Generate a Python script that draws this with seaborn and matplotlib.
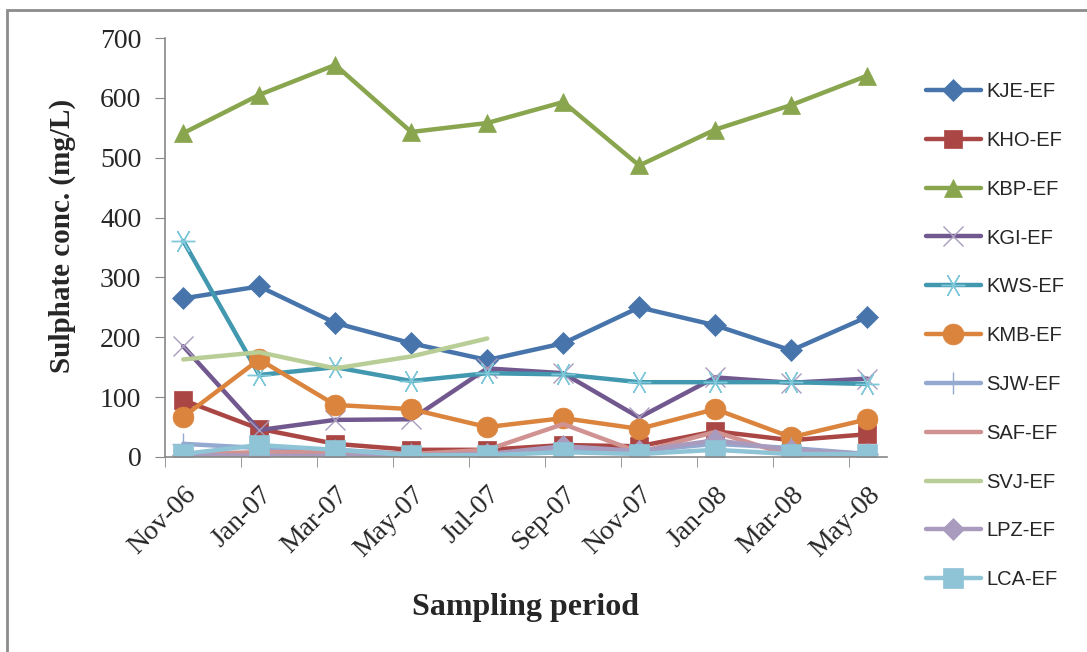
import numpy as np
import pandas as pd
import matplotlib.pyplot as plt
import matplotlib.transforms as mtransforms
import seaborn as sns
from matplotlib.patches import Rectangle

# Sampling months and sulphate values (mg/L)
months = ['Nov-06', 'Jan-07', 'Mar-07', 'May-07', 'Jul-07',
          'Sep-07', 'Nov-07', 'Jan-08', 'Mar-08', 'May-08']

kje = [265, 285, 224, 190, 162, 190, 250, 220, 178, 234]
kho = [95, 47, 22, 12, 12, 20, 18, 43, 28, 38]
kbp = [541, 605, 655, 543, 558, 593, 487, 547, 588, 637]
kgi = [185, 45, 62, 63, 148, 140, 66, 133, 124, 131]
kws = [361, 137, 150, 127, 140, 138, 125, 125, 125, 122]
kmb = [67, 163, 87, 80, 50, 65, 47, 80, 33, 63]
sjw = [22, 15, 12, 5, 5, 10, 10, 22, 15, 5]
saf = [5, 8, 8, 5, 12, 55, 8, 42, 2, 2]
svj = [163, 175, 148, 168, 198, np.nan, np.nan, np.nan, np.nan, np.nan]
lpz = [3, 2, 2, 3, 5, 18, 10, 28, 12, 5]
lca = [5, 20, 12, 3, 3, 8, 5, 12, 5, 5]

names = ['KJE-EF', 'KHO-EF', 'KBP-EF', 'KGI-EF', 'KWS-EF', 'KMB-EF',
         'SJW-EF', 'SAF-EF', 'SVJ-EF', 'LPZ-EF', 'LCA-EF']
series = [kje, kho, kbp, kgi, kws, kmb, sjw, saf, svj, lpz, lca]

colors = ['#4674AB', '#AA4643', '#89A54E', '#71588F', '#4198AF', '#DB843D',
          '#93A9CF', '#D19392', '#B9CD96', '#A99BBD', '#8FC3D6']
marker_edge = ['#4674AB', '#AA4643', '#89A54E', '#A99BBD', '#7FC8DA', '#DB843D',
               '#93A9CF', '#D19392', '#B9CD96', '#A99BBD', '#8FC3D6']
markers = ['D', 's', '^', 'x', (6, 2, 90), 'o', '+', None, None, 'D', 's']
msizes = [11, 13, 13, 15, 17, 15, 16, 0, 0, 11, 15]

df = pd.DataFrame({'x': np.arange(len(months))})
for n, s in zip(names, series):
    df[n] = s

sns.set_style('white')
plt.rcParams['font.family'] = ['Liberation Serif', 'DejaVu Serif']

fig = plt.figure(figsize=(10.87, 6.52), dpi=100)
ax = fig.add_axes([165 / 1087, 1 - 457 / 652, (887 - 165) / 1087, (457 - 38) / 652])

for i, n in enumerate(names):
    kw = dict(color=colors[i], linewidth=3.2, label=n)
    if markers[i] is not None:
        thin = markers[i] in ('x', '+') or isinstance(markers[i], tuple)
        kw.update(marker=markers[i], markersize=msizes[i],
                  markeredgecolor=marker_edge[i], markerfacecolor=colors[i],
                  markeredgewidth=1.0 if thin else 0.5)
    sns.lineplot(data=df, x='x', y=n, ax=ax, **kw)

ax.set_xlim(-0.24, len(months) - 1 + 0.26)
ax.set_ylim(0, 700)
ax.set_yticks(range(0, 701, 100))
ax.set_xticks(np.arange(len(months)))
ax.set_xticklabels(months, rotation=45, ha='right', rotation_mode='anchor')
shift = mtransforms.ScaledTranslation(8 / 100, 0, fig.dpi_scale_trans)
for lab in ax.get_xticklabels():
    lab.set_transform(lab.get_transform() + shift)
ax.set_xticks(np.arange(len(months)) - 0.24, minor=True)
ax.tick_params(axis='x', which='major', length=0, pad=18, labelsize=20)
ax.tick_params(axis='x', which='minor', length=7, color='#888888', direction='out', bottom=True)
ax.tick_params(axis='y', length=7, color='#888888', direction='out', left=True, labelsize=20, pad=10)

for sp in ['top', 'right']:
    ax.spines[sp].set_visible(False)
for sp in ['left', 'bottom']:
    ax.spines[sp].set_color('#888888')
    ax.spines[sp].set_linewidth(1.2)

ax.set_xlabel('Sampling period', fontsize=23, fontweight='bold')
ax.set_ylabel('Sulphate conc. (mg/L)', fontsize=21, fontweight='bold')
ax.xaxis.set_label_coords((525 - 165) / (887 - 165), -(593 - 457) / (457 - 38))
ax.yaxis.set_label_coords(-(165 - 76) / (887 - 165), 0.5 + 12 / (457 - 38))

leg = ax.legend(loc='upper left', bbox_to_anchor=(908 / 1087, 1 - 64 / 652),
                bbox_transform=fig.transFigure, frameon=False,
                prop={'family': 'Liberation Sans', 'size': 14.5},
                handlelength=2.7, labelspacing=1.48, handletextpad=0.3)

# outer chart border
fig.patches.append(Rectangle((7 / 1087, -0.1), 1.2, 1 - 10 / 652 + 0.1,
                             transform=fig.transFigure, fill=False,
                             edgecolor='#8c8c8c', linewidth=2))

fig.savefig('out.png', dpi=100)
